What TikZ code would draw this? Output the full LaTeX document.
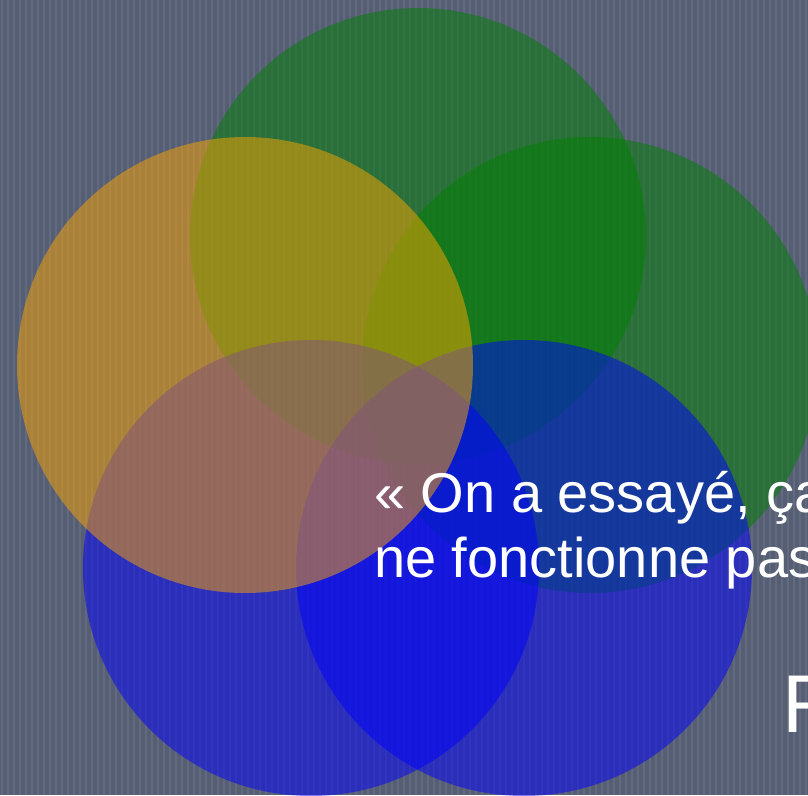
\documentclass[tikz,border=0pt]{standalone}
\usepackage{fontspec}
\setmainfont{Liberation Sans}
\definecolor{fond}{RGB}{86,94,115}
\definecolor{raie}{RGB}{98,106,127}
\definecolor{vert}{RGB}{0,128,0}
\definecolor{bleu}{RGB}{0,0,255}
\definecolor{jaune}{RGB}{255,165,0}
\tikzset{disque/.style={fill opacity=0.5}}

\begin{document}
\begin{tikzpicture}[x=1pt,y=-1pt]
\pgfmathsetmacro{\rayon}{228}
\useasboundingbox (0,0) rectangle (808,795);
\clip (0,0) rectangle (808,795);
\fill[fond] (0,0) rectangle (808,795);
\foreach \sx in {2,8,...,806}
  \draw[raie,line width=2pt] (\sx,0) -- (\sx,795);
\fill[vert,disque] (418,236) circle (\rayon);
\fill[vert,disque] (590,365) circle (\rayon);
\fill[bleu,disque] (311,568) circle (\rayon);
\fill[bleu,disque] (524,568) circle (\rayon);
\fill[jaune,disque] (245,365) circle (\rayon);
\node[anchor=base west,inner sep=0,text=white,font=\fontsize{56}{65}\selectfont] (citeun) at (374,512) {« On a essayé, ça};
\node[anchor=base west,inner sep=0,text=white,font=\fontsize{56}{65}\selectfont] (citedeux) at (374,577) {ne fonctionne pas};
\node[anchor=base west,inner sep=0,text=white,font=\fontsize{82}{96}\selectfont] (lettre) at (782,732) {R};
\end{tikzpicture}
\end{document}
